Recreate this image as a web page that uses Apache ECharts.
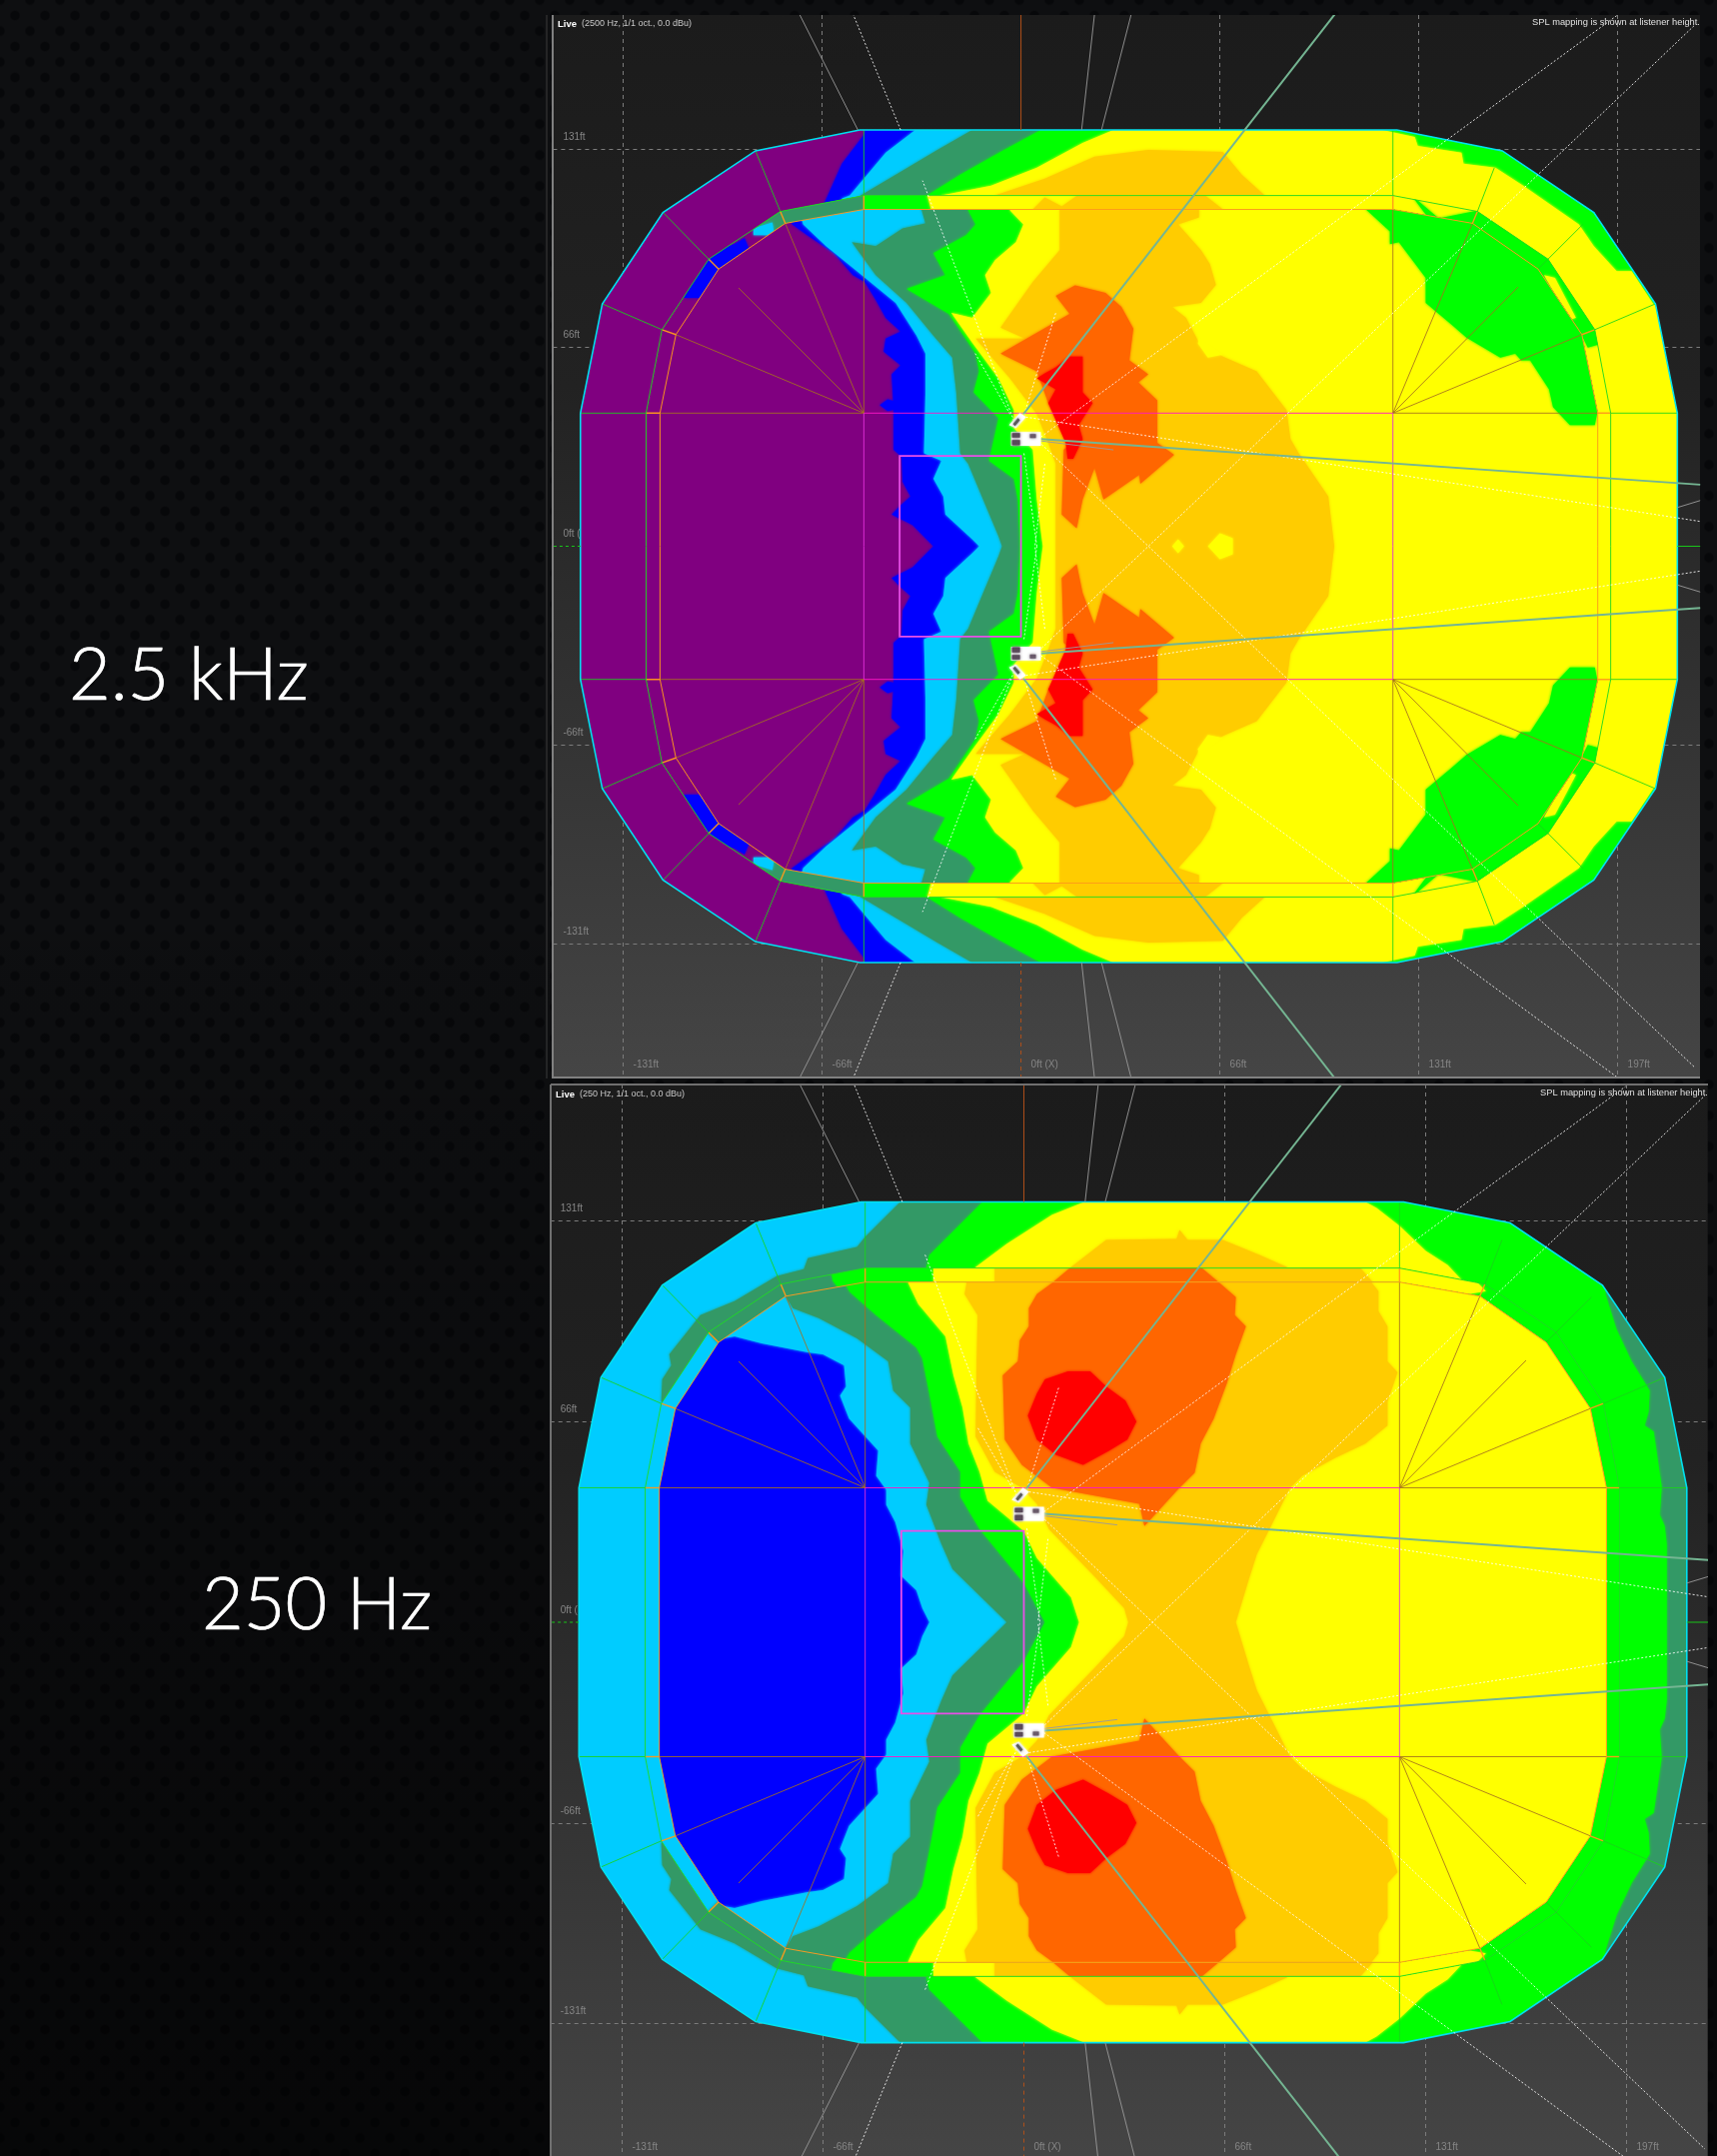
<!DOCTYPE html>
<html><head><meta charset="utf-8">
<style>html,body{margin:0;padding:0}
html{background-color:#0e0f11}
body{width:1718px;height:2157px;background-color:#0e0f11;
background-image:linear-gradient(180deg,rgba(0,0,0,0) 0,rgba(0,0,0,0) 40%,rgba(0,0,0,.55) 100%),radial-gradient(circle,#07080a 4px,rgba(7,8,10,0) 5.5px),radial-gradient(circle,#07080a 4px,rgba(7,8,10,0) 5.5px);
background-size:100% 100%,30px 31px,30px 31px;background-position:0 0,0 0,15px 15.5px}
#c{width:1718px;height:2157px}</style>
<script src="https://cdn.jsdelivr.net/npm/echarts@6/dist/echarts.min.js"></script>
</head><body><div id="c"></div>
<script>
// ---- axis ticks (positions in metres, labelled in feet as in the source) ----
const xGridTicks=[-40,-20,20,40,60];
const xLabelTicks=[-40,-20,0,20,40,60];
const xTickLabels=['-131ft','-66ft','0ft (X)','66ft','131ft','197ft'];
const yGridTicks=[-40,-20,20,40];
const yLabelTicks=[-40,-20,0,20,40];
const yTickLabels=['-131ft','-66ft','0ft (','66ft','131ft'];
// ---- SPL band colours ----
const PURPLE='#800080',BLUE='#0000ff',CYAN='#00ccff',SEA='#339966',LIME='#00ff00',YELLOW='#ffff00',AMBER='#ffcc00',ORANGE='#ff6600',RED='#ff0000';
// ---- venue geometry (upper half; the room is symmetric about y=0) ----
const venueOuter=[[-44.3,0],[-44.3,13.4],[-42.1,24.4],[-36,33.6],[-26.7,39.8],[-16.2,41.9],[37.8,41.9],[48.4,39.8],[57.6,33.6],[63.8,24.4],[66,13.4],[66,0]];
const venueMid=[[-37.7,0],[-37.7,13.4],[-36.1,21.8],[-31.4,28.9],[-24.2,33.7],[-15.8,35.3],[37.4,35.3],[45.9,33.7],[53,28.9],[57.7,21.8],[59.3,13.4],[59.3,0]];
const venueInner=[[-36.3,0],[-36.3,13.4],[-34.7,21.3],[-30.4,27.9],[-23.7,32.5],[-15.8,33.9],[37.4,33.9],[45.4,32.5],[52,27.9],[56.4,21.3],[58,13.4],[58,0]];
const stage=[[-12.2,0],[-12.2,9.1],[0,9.1],[0,0]];
// ---- 2.5 kHz: balcony (outer) contours ----
const a_outer_blue=[[-20,0],[-20,34],[-18,38.5],[-15.8,41.4],[-15.4,43],[70,43],[70,0]];
const a_outer_cyan=[[-18,0],[-18,35],[-17.2,35.3],[-15.8,37],[-13.6,39.6],[-10.5,42],[-10,43],[70,43],[70,0]];
const a_outer_sea=[[-17,0],[-17,34.5],[-16.1,35.3],[-11.9,37.8],[-8.4,39.9],[-4.9,41.9],[-4,43],[70,43],[70,0]];
const a_outer_lime=[[-10,0],[-10,35],[-9.6,35.2],[-6.1,37.4],[-2.2,39.6],[2,41.9],[3,43],[70,43],[70,0]];
const a_outer_yellow=[[-8,0],[-8,35.3],[-3,36.3],[1.6,38.1],[6.2,40.6],[9.3,41.9],[10,43],[36.3,43],[36.3,41.9],[39.6,41.2],[39.9,40.3],[44.3,39.6],[44.5,38.5],[47.7,38.1],[50.5,36.3],[56.1,32.4],[57.6,30.2],[59.9,27.7],[61.4,27.7],[63.5,24.5],[65,23],[70,23],[70,0]];
const a_outer_amber=[[-2.6,34],[-2.6,35.3],[2.4,37],[7.4,39.2],[12.8,39.9],[20.3,39.7],[22.2,37.4],[24.5,35.3],[24.5,34]];
// ---- 2.5 kHz: ring between balcony and floor ----
const a_ring_sea=[[-26.8,32],[-24,35],[-15.8,36],[-15.8,33],[-25,31]];
const a_ring_cyan=[[-26.9,32],[-25,32.6],[-24.8,31.3],[-26.9,31.3]];
const a_ring_blue=[[-33.9,25],[-32.5,27.5],[-31.5,29.5],[-28.8,30.4],[-27.8,31],[-27.3,29.8],[-30,27],[-32,25]];
const a_ring_lime=[[-15.8,33],[-15.8,36],[-9.6,36],[-8.8,33]];
const a_ring_yellow=[[70,0],[70,36],[-9.6,36],[-8.8,33],[-8.8,0]];
const a_ring_amber=[[1.2,33],[1.2,33.9],[2.4,35.1],[4.1,34.2],[5.8,35.4],[18.4,35.4],[20.3,33.9],[20.3,33]];
const a_ring_limeR=[[39.2,35.4],[42,33],[46,33.8],[53,29],[57.7,22],[58.4,20.4],[57,20],[56,22],[52,27],[46,32],[41,33]];
const a_ring_sliver=[[52.6,27.3],[53.7,27],[55.8,23],[55.2,22.8]];
// ---- 2.5 kHz: floor contours ----
const a_in_blue=[[-8.8,0],[-10.9,2.15],[-13,3.2],[-11.9,4.3],[-11.1,5],[-11.9,6.5],[-12,9],[-12.8,9.7],[-12.8,13.7],[-13,17.3],[-12.1,18.2],[-13.8,19.6],[-13.6,20.9],[-12.1,21.6],[-13.6,23],[-14.6,24.8],[-15.7,26.6],[-16.9,27.3],[-18.8,29.5],[-21.5,31.3],[-23,32.4],[-24,36],[70,36],[70,0]];
const a_in_blueSpot=[[-14.2,14.2],[-13.4,14.8],[-12.5,14.5],[-12.5,13.8],[-13.4,13.6]];
const a_in_cyan=[[-4.2,0],[-4.9,0.7],[-7.6,3.2],[-7.8,5],[-8.8,6.8],[-8,8.6],[-9.75,9.35],[-9.6,15.5],[-9.6,19.4],[-10.5,21.2],[-12.6,24.5],[-16.5,27.7],[-19.6,30.2],[-21.9,32.4],[-23,36],[70,36],[70,0]];
const a_in_sea=[[-1.9,0],[-2.25,1],[-3.8,4.7],[-5.3,8.3],[-6.1,9.35],[-6.5,15.5],[-6.9,19],[-8.8,21.2],[-11.5,24.5],[-14.6,27.3],[-17,30.6],[-14.6,30.2],[-11.9,32],[-9.6,32.5],[-10,33.9],[-10,36],[70,36],[70,0]];
const a_in_lime=[[-0.1,0],[-0.3,4.7],[-0.7,6.8],[-3.2,8.6],[-2.25,12.9],[-4.75,15.5],[-4.2,17.6],[-4.55,19.4],[-7.25,23.4],[-11.5,25.9],[-7.6,27.3],[-8.8,29.5],[-5.5,31.3],[-4.55,32.4],[-5.3,33.8],[-5.3,36],[70,36],[70,0]];
const a_in_yellow=[[2.2,0],[1.6,4.7],[1.2,9.7],[-0.7,11.9],[-0.7,13.7],[-2.25,16.9],[-4.9,20.5],[-7,23.5],[-4.9,23],[-3,25.5],[-3.6,27.3],[-2.6,28.8],[-0.5,30.6],[0.25,32.4],[-1.1,33.8],[-1.1,36],[70,36],[70,0]];
const a_in_limeR=[[34.7,33.9],[37.1,31.7],[37.1,30.4],[38,30.6],[40.7,27],[40.7,24.5],[43.3,22.3],[44.8,21],[48.2,19],[49.7,19.4],[50.3,18.7],[51.2,18.7],[53.1,15.8],[53.5,14],[55.2,12.2],[57.7,12.2],[58,13.7],[60,14],[60,36],[35,36]];
const a_in_amber=[[3.5,0],[3.5,8.3],[2.75,10.4],[1.6,13.3],[-1.1,16.9],[-4.55,20.9],[0.4,20.9],[-2.05,22],[1.2,26.6],[3.9,29.8],[3.9,33.8],[3.9,36],[17.9,36],[17.9,33.1],[15.8,32.4],[18.1,29.8],[19,28.4],[19.6,26.3],[18.1,24.5],[15.2,24.1],[16.6,23],[17.9,20.5],[20.3,19.1],[23.7,17.6],[26.7,13.7],[27.1,10.8],[27.9,9.4],[30.9,5],[31.5,0]];
const a_in_isleA=[[18.8,0],[20,1.3],[21.3,0.8],[21.3,0]];
const a_in_isleB=[[15.2,0],[15.8,0.7],[16.4,0]];
const a_in_isleC=[[17.9,21],[20.3,19.3],[18.8,19],[17.8,20.4]];
const a_in_orange=[[5.44,26.25],[3.5,25.2],[4.9,23.4],[-2.05,19.4],[1.6,17.6],[2.75,14.4],[5.4,10.8],[4.3,9.7],[4.1,3.2],[5.6,1.8],[6.2,4.7],[7.4,7.9],[8.3,4.7],[11.9,7.2],[12,6.3],[15.4,9.2],[13.7,10.4],[13.7,14.7],[11.8,16.5],[12.8,17.3],[10.9,18.7],[11.3,21.9],[10.1,24.1],[8.5,25.5]];
const a_in_red=[[4.9,19.1],[6.2,19.1],[6.2,15.5],[7.2,14.4],[5.8,12.2],[6.2,10.8],[5.25,8.8],[4.7,8.8],[4.5,10.4],[2.75,14.4],[3.5,15.8],[1.6,16.9],[2.4,17.4],[3.5,18]];
// ---- 250 Hz: balcony contours ----
const b_outer_sea=[[70,0],[70,43],[-11.5,43],[-12.2,42],[-15.8,38.4],[-16.6,37.4],[-21.5,36.3],[-21.9,35.2],[-24.6,34.5],[-28.8,32],[-32.2,30.6],[-35.3,26.7],[-35.1,25.6],[-36,24.2],[-36.1,22],[-30,20],[-30,0]];
const b_outer_lime=[[-9.7,0],[-9.7,35.4],[-9.4,36.6],[-4,42],[-3,43],[50,43],[57.9,34],[57.9,32.7],[59,29.2],[60.5,26],[62.3,23.1],[62.2,21],[61.8,19.6],[62.7,19],[63.5,13.5],[63.3,10.7],[63.8,9.6],[64,7.8],[64,0]];
const b_outer_yellow=[[-4.8,0],[-4.8,35.4],[-1.7,37.7],[2.8,40.6],[6.3,42],[7,43],[33,43],[33.8,42],[35.1,41.3],[37.4,39.5],[40,37],[42.2,35.6],[43.5,34.2],[43.5,0]];
const b_outer_amber=[[4.7,34],[4.7,35.4],[8.2,38.1],[15.2,38.2],[15.5,39.1],[16.3,38.1],[19.8,38.1],[23.5,36.6],[26.2,35.4],[26.2,34]];
// ---- 250 Hz: ring ----
const b_ring_sea=[[70,0],[70,38],[-33,38],[-31.8,29.2],[-30.3,27.7],[-20,20],[-20,0]];
const b_ring_lime=[[70,0],[70,38],[-18.5,38],[-19.2,35],[-19,34],[-18.2,33],[-18,0]];
const b_ring_yellow=[[-9,33],[-9,36],[43,36],[46,33],[40,32]];
const b_ring_amber=[[-2.9,33],[-2.9,36],[32.9,36],[35.5,33]];
const b_ring_orange=[[2.8,33.8],[4.7,35.4],[17.6,35.4],[19.5,33.8]];
// ---- 250 Hz: floor contours ----
const b_in_cyan=[[-9.4,0],[-10.1,1.4],[-10.7,3.2],[-12.2,4.6],[-12,7.1],[-12.8,10],[-13.7,11.7],[-13.7,13.2],[-14.7,14.6],[-14.5,17.1],[-15.5,18.2],[-17.4,20.3],[-18.3,22.6],[-17.7,23.5],[-17.9,25.6],[-20,26.7],[-21.5,26.9],[-26.1,27.8],[-28.8,28.5],[-29.9,28.3],[-31,29],[-25,40],[70,40],[70,0]];
const b_in_sea=[[-1.7,0],[-2.1,0.4],[-7.1,5.3],[-8.2,7.8],[-9.7,11.7],[-9.4,13.9],[-11.3,17.8],[-11.3,21.4],[-13,23.1],[-13.5,26],[-16.6,28.3],[-20.4,30.3],[-23,31.3],[-24,33],[-24,40],[70,40],[70,0]];
const b_in_lime=[[2.1,0],[0,3.9],[-4.4,9.3],[-6.3,12.5],[-6.3,15],[-8.6,18.5],[-9.4,22.8],[-10.1,26.3],[-10.7,27.4],[-14.7,30.6],[-17.3,32.9],[-18,34],[-18,40],[70,40],[70,0]];
const b_in_yellow=[[5.5,0],[4.7,2.5],[1.3,6.4],[0,9.1],[-3.6,12.1],[-4.4,15],[-5.5,17.8],[-6.1,21.4],[-7,24.6],[-7.8,28.5],[-10.5,31.7],[-11.5,33.8],[-11.5,40],[70,40],[70,0]];
const b_in_limeR=[[45.7,33.5],[49.9,31],[50.4,29.2],[52.1,28],[60,28],[60,36],[45,36]];
const b_in_amber=[[10.4,0],[10,1.4],[7,4.6],[2.5,9.3],[1.3,11.8],[-0.2,13.4],[-2.9,15],[-4.8,18.5],[-4.7,26],[-4.6,30.6],[-5.9,32.7],[-5.7,33.8],[-5.7,36],[32.9,36],[35.3,33],[35.3,31],[36.2,29.5],[36.2,26],[37.2,24.9],[36.2,22],[36.2,19.6],[34,17.8],[31,16.4],[27.7,14.6],[26.5,13.4],[24.3,9],[23.2,6.8],[22.4,4.3],[21.1,0]];
const b_in_orange=[[4.7,35.2],[1.3,32.7],[0.5,31.3],[0.5,29.5],[-0.4,28.1],[-0.6,26],[-2.1,24.6],[-1.9,18.2],[-0.2,15.7],[2.8,13.4],[11.5,11.8],[12,9.6],[15.3,13.2],[17,14.9],[17.6,17.8],[18.9,20.3],[20.2,23.8],[21.1,26.7],[22.1,29.5],[21,30.6],[21.1,32.4],[19.5,33.8],[17.6,35.2]];
const b_in_red=[[4.4,25],[6.6,25],[8.2,23.5],[10.1,22.1],[11.2,20],[10.3,18.2],[8.5,17.1],[5.9,15.7],[3.2,16.7],[1.3,18.2],[0.4,20.6],[1.3,22.8],[2.1,24.2]];
// ---- rays and structure lines (upper half) ----
const raysFloor=[[[-15.8,13.4],[-34.7,21.3]],[[-15.8,13.4],[-23.7,32.5]],[[-15.8,13.4],[-28.4,26]],[[37.4,13.4],[56.4,21.3]],[[37.4,13.4],[45.4,32.5]],[[37.4,13.4],[50,26.1]],[[-15.8,13.4],[-36.3,13.4]],[[37.4,13.4],[58,13.4]],[[-15.8,13.4],[-15.8,33.9]],[[37.4,13.4],[37.4,33.9]]];
const raysStub=[[[-34.7,21.3],[-36.1,21.8]],[[-30.4,27.9],[-31.4,28.9]],[[-23.7,32.5],[-24.2,33.7]],[[56.4,21.3],[57.7,21.8]],[[45.4,32.5],[45.9,33.7]],[[-15.8,33.9],[-15.8,35.3]],[[37.4,33.9],[37.4,35.3]],[[-37.7,13.4],[-36.3,13.4]],[[58,13.4],[59.3,13.4]]];
const raysBalcony=[[[-36.1,21.8],[-42.1,24.4]],[[-31.4,28.9],[-36,33.6]],[[-24.2,33.7],[-26.7,39.8]],[[57.7,21.8],[63.8,24.4]],[[52,27.9],[56.5,32.4]],[[45.9,33.7],[47.6,38.1]],[[-15.8,35.3],[-15.8,41.9]],[[37.4,35.3],[37.4,41.9]],[[-44.3,13.4],[-37.7,13.4]],[[59.3,13.4],[66,13.4]]];
const linesCentre=[[[-15.8,13.4],[37.4,13.4]]];
const linesCentreV=[[[-15.8,0],[-15.8,13.4]],[[37.4,0],[37.4,13.4]]];
const beamsThick=[[[0.24,13.3],[31.6,53.6]],[[2,10.8],[68.3,6.2]]];
const raysGrey=[[[-16.4,41.9],[-22.3,53.6]],[[6.1,41.9],[7.4,53.6]],[[8.1,41.9],[11.1,53.6]],[[66,3.9],[68.3,4.6]],[[2,10.6],[9.3,9.7]]];
const raysDotted=[[[-12.1,41.9],[-16.9,53.6]],[[-0.7,12.6],[-9.9,36.8]],[[0.2,12.9],[3.5,23.5]],[[-1.1,13.3],[-4.6,19.4]],[[2,11],[59.9,53.4]],[[1.5,-10.8],[67.8,52.5]],[[0.5,13],[68.3,2.5]],[[0.3,9.35],[1.6,0]],[[2.4,8.3],[1.4,0]]];
const axisX0Solid=[[0,41.9],[0,53.6]];
const stubsGreen=[[66,0],[68.3,0]];
const stubsGreenDash=[[-47,0],[-44.3,0]];
// ---- loudspeaker marks (upper half) ----
const spkBody=[[-1,11.5],[2,11.5],[2,10.1],[-1,10.1]];
const spkTilt=[[-1.2,12.2],[-0.1,13.4],[0.5,13],[-0.5,11.9]];
const spkDarkA=[[-0.9,11.4],[-0.1,11.4],[-0.1,10.95],[-0.9,10.95]];
const spkDarkB=[[-0.9,10.7],[-0.1,10.7],[-0.1,10.15],[-0.9,10.15]];
const spkDarkC=[[0.9,11.3],[1.5,11.3],[1.5,10.9],[0.9,10.9]];
const spkDarkD=[[-0.8,12.3],[-0.3,12.9],[-0.1,12.7],[-0.6,12.1]];

// ---- build ----
const mirror=p=>p.map(([x,y])=>[x,-y]);
const closeHalf=p=>p.concat(mirror(p).reverse());
const expand=p=>(p[0][1]===0&&p[p.length-1][1]===0)?[closeHalf(p)]:[p,mirror(p)];
function layers(spec){
  const out=[];
  spec.forEach(([clip,items])=>{
    const c=closeHalf(clip);
    items.forEach(([pts,col])=>expand(pts).forEach(q=>out.push({q,col,c})));
  });
  return out;
}
const spA=layers([
 [venueOuter,[[venueOuter,PURPLE],[a_outer_blue,BLUE],[a_outer_cyan,CYAN],[a_outer_sea,SEA],[a_outer_lime,LIME],[a_outer_yellow,YELLOW],[a_outer_amber,AMBER]]],
 [venueMid,[[venueMid,PURPLE],[a_ring_blue,BLUE],[a_ring_sea,SEA],[a_ring_cyan,CYAN],[a_ring_lime,LIME],[a_ring_yellow,YELLOW],[a_ring_amber,AMBER],[a_ring_limeR,LIME],[a_ring_sliver,YELLOW]]],
 [venueInner,[[venueInner,PURPLE],[a_in_blue,BLUE],[a_in_blueSpot,BLUE],[a_in_cyan,CYAN],[a_in_sea,SEA],[a_in_lime,LIME],[a_in_yellow,YELLOW],[a_in_limeR,LIME],[a_in_amber,AMBER],[a_in_isleA,YELLOW],[a_in_isleB,YELLOW],[a_in_isleC,YELLOW],[a_in_orange,ORANGE],[a_in_red,RED]]]
]);
const spB=layers([
 [venueOuter,[[venueOuter,CYAN],[b_outer_sea,SEA],[b_outer_lime,LIME],[b_outer_yellow,YELLOW],[b_outer_amber,AMBER]]],
 [venueMid,[[venueMid,CYAN],[b_ring_sea,SEA],[b_ring_lime,LIME],[b_ring_yellow,YELLOW],[b_ring_amber,AMBER],[b_ring_orange,ORANGE]]],
 [venueInner,[[venueInner,BLUE],[b_in_cyan,CYAN],[b_in_sea,SEA],[b_in_lime,LIME],[b_in_yellow,YELLOW],[b_in_limeR,LIME],[b_in_amber,AMBER],[b_in_orange,ORANGE],[b_in_red,RED]]]
]);
function areaSeries(g,list){
  return {type:'custom',xAxisIndex:g,yAxisIndex:g,silent:true,animation:false,clip:true,z:2,
    data:list.map((l,i)=>[l.q[0][0],l.q[0][1],i]),
    renderItem(params,api){
      const l=list[api.value(2)];
      const toPx=a=>a.map(p=>api.coord(p));
      const el={type:'polygon',shape:{points:toPx(l.q)},style:{fill:l.col,shadowBlur:3,shadowColor:l.col}};
      if(l.c) el.clipPath={type:'polygon',shape:{points:toPx(l.c)}};
      return el;
    }};
}
function lineSeries(g,list){
  return {type:'custom',xAxisIndex:g,yAxisIndex:g,silent:true,animation:false,clip:true,z:3,
    data:list.map((l,i)=>[l.p[0][0],l.p[0][1],i]),
    renderItem(params,api){
      const l=list[api.value(2)];
      return {type:'polyline',shape:{points:l.p.map(p=>api.coord(p))},
        style:{stroke:l.col,lineWidth:l.w,lineDash:l.d||null,opacity:l.o==null?1:l.o,fill:null}};
    }};
}
function both(segs,col,w,o,d){const r=[];segs.forEach(p=>{r.push({p,col,w,o,d});r.push({p:mirror(p),col,w,o,d});});return r;}
const structure=[].concat(
  both(raysFloor,'#a5701e',1,0.85),
  both(raysStub,'#ff9a1a',1.4,0.95),
  both(raysBalcony,'#19d419',1,0.85),
  both(linesCentre,'#ff16c8',1,0.9),
  both(linesCentreV,'#e030d8',1,0.9),
  [{p:closeHalf(venueInner).concat([venueInner[0]]),col:'#ff9a1a',w:1,o:0.95},
   {p:closeHalf(venueMid).concat([venueMid[0]]),col:'#1fdc1f',w:1,o:0.9},
   {p:closeHalf(venueOuter).concat([venueOuter[0]]),col:'#00e0f0',w:1.6},
   {p:closeHalf(stage).concat([stage[0]]),col:'#e84fe8',w:1.8},
   {p:axisX0Solid,col:'#b0501a',w:1},
   {p:mirror(axisX0Solid),col:'#b0501a',w:1,d:[4,4]},
   {p:stubsGreen,col:'#19c419',w:1},
   {p:stubsGreenDash,col:'#19c419',w:1,d:[3,3]}],
  both(raysGrey,'#9a9a9a',1,0.9),
  both(raysDotted,'#ffffff',1,0.85,[2,2]),
  both(beamsThick,'#74b592',2)
);
const speakers=[[spkBody,'#ffffff'],[spkTilt,'#ffffff'],[spkDarkA,'#5a4a5a'],[spkDarkB,'#5a4a5a'],[spkDarkC,'#6a5a6a'],[spkDarkD,'#5a5a5a']]
  .flatMap(([p,col])=>[{q:p,col},{q:mirror(p),col}]);
function xAx(g,margin){return {gridIndex:g,type:'value',min:g?-47.14:-47.05,max:g?68.08:68.28,
  axisLine:{show:false},
  axisTick:{show:false,customValues:xGridTicks},
  splitLine:{show:true,lineStyle:{color:'#7c7c7c',type:[4,4],width:1}},
  axisLabel:{inside:true,customValues:xLabelTicks,margin,color:'#868686',fontSize:10,fontFamily:'Liberation Sans',align:'left',verticalAlign:'bottom',padding:[0,0,0,10],
    hideOverlap:false,showMinLabel:true,showMaxLabel:true,
    formatter:v=>xTickLabels[xLabelTicks.indexOf(v)]||''}};}
function yAx(g){return {gridIndex:g,type:'value',min:g?-53.2:-53.53,max:g?53.6:53.47,
  axisLine:{show:false},
  axisTick:{show:false,customValues:yGridTicks},
  splitLine:{show:true,lineStyle:{color:'#7c7c7c',type:[4,4],width:1}},
  axisLabel:{inside:true,customValues:yLabelTicks,margin:10,color:'#868686',fontSize:10,fontFamily:'Liberation Sans',align:'left',verticalAlign:'bottom',padding:[0,0,7,0],
    hideOverlap:false,
    formatter:v=>yTickLabels[yLabelTicks.indexOf(v)]||''}};}
const panelFill=()=>new echarts.graphic.LinearGradient(0,0,0,1,[{offset:0,color:'#1b1b1b'},{offset:0.35,color:'#222222'},{offset:1,color:'#454545'}]);
const txt=(text,left,top,size,color,weight,family,extra)=>({text,left,top,padding:0,textStyle:Object.assign({color,fontSize:size,fontWeight:weight||'normal',fontFamily:family||'Liberation Sans'},extra||{})});
const bigStroke={textBorderColor:'#ffffff',textBorderWidth:0.7};
const option={
  backgroundColor:'transparent',animation:false,
  title:[
    txt('2.5 kHz',69,641,72,'#ffffff','300','Lato',bigStroke),
    txt('250 Hz',202,1571,72,'#ffffff','300','Lato',bigStroke),
    txt('Live',558,19,9.5,'#ffffff','bold'),
    txt('(2500 Hz, 1/1 oct., 0.0 dBu)',582,19,9,'#c8c8c8'),
    txt('SPL mapping is shown at listener height.',1533,18,9.3,'#e0e0e0'),
    txt('Live',556,1090,9.5,'#ffffff','bold'),
    txt('(250 Hz, 1/1 oct., 0.0 dBu)',580,1090,9,'#c8c8c8'),
    txt('SPL mapping is shown at listener height.',1541,1089,9.3,'#e0e0e0')
  ],
  grid:[
    {left:553.4,top:15,width:1147.6,height:1063.6,show:true,backgroundColor:panelFill(),borderWidth:0},
    {left:550.7,top:1085,width:1158,height:1072,show:true,backgroundColor:panelFill(),borderWidth:0}
  ],
  xAxis:[xAx(0,8),xAx(1,4)],
  yAxis:[yAx(0),yAx(1)],
  series:[areaSeries(0,spA),lineSeries(0,structure),Object.assign(areaSeries(0,speakers),{z:4}),
          areaSeries(1,spB),lineSeries(1,structure),Object.assign(areaSeries(1,speakers),{z:4})],
  graphic:[
    {type:'line',shape:{x1:553,y1:15,x2:553,y2:1079},style:{stroke:'#808080',lineWidth:2},z:10},
    {type:'line',shape:{x1:547,y1:15,x2:547,y2:1079},style:{stroke:'#3c3c3c',lineWidth:1},z:10},
    {type:'line',shape:{x1:553,y1:1078,x2:1701,y2:1078},style:{stroke:'#808080',lineWidth:2},z:10},
    {type:'line',shape:{x1:551,y1:1085,x2:1709,y2:1085},style:{stroke:'#707070',lineWidth:2},z:10},
    {type:'line',shape:{x1:551,y1:1085,x2:551,y2:2157},style:{stroke:'#707070',lineWidth:2},z:10}
  ]
};
echarts.init(document.getElementById('c'),null,{renderer:'canvas'}).setOption(option);
</script></body></html>
